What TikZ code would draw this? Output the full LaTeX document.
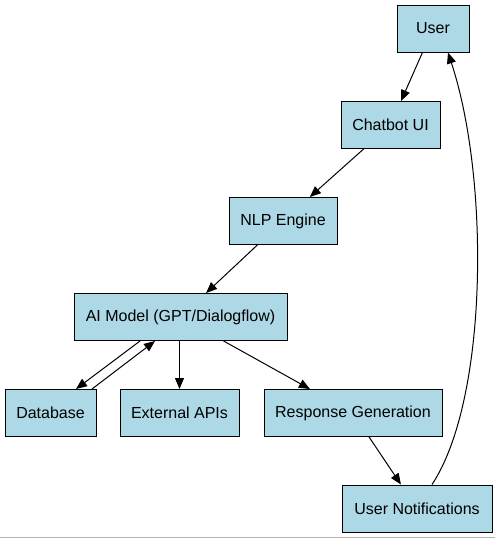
\documentclass[tikz,border=0pt]{standalone}
\usepackage{fontspec}
\setmainfont{Liberation Sans}
\usetikzlibrary{arrows.meta,positioning}
\definecolor{lightblue}{RGB}{173,216,230}

\begin{document}
\begin{tikzpicture}[
    x=1pt, y=-1pt,
    >={Triangle[length=11pt,width=9pt]},
    box/.style={draw, fill=lightblue, line width=1pt, minimum height=47pt, inner sep=0pt, font=\fontsize{16}{18}\selectfont},
    link/.style={->, line width=1pt}
]
\useasboundingbox (0,0) rectangle (495,539);

% Boxes
\node[box, minimum width=72pt]  (user)  at (433,28.5)  {User};
\node[box, minimum width=99pt]  (chat)  at (390.5,125) {Chatbot UI};
\node[box, minimum width=108pt] (nlp)   at (283,221)   {NLP Engine};
\node[box, minimum width=213pt] (ai)    at (180.5,317) {AI Model (GPT/Dialogflow)};
\node[box, minimum width=91pt]  (db)    at (50.5,413)  {Database};
\node[box, minimum width=119pt] (api)   at (179.5,413) {External APIs};
\node[box, minimum width=178pt] (resp)  at (353,413)   {Response Generation};
\node[box, minimum width=150pt] (notif) at (417,508.5) {User Notifications};

% Flow
\draw[link] (user) -- (chat);
\draw[link] (chat) -- (nlp);
\draw[link] (nlp) -- (ai);
\draw[link] ([xshift=-40.5pt]ai.south) -- ([xshift=25.5pt]db.north);
\draw[link] ([xshift=41.5pt]db.north) -- ([xshift=-25.5pt]ai.south);
\draw[link] (ai.south -| api.north) -- (api.north);
\draw[link] (ai) -- (resp);
\draw[link] (resp) -- (notif);

% Back to the user
\draw[link] ([xshift=15pt]notif.north) .. controls (488,400) and (490,180) .. ([xshift=15pt]user.south);

% Bottom edge
\draw[gray!60, line width=1pt] (0,537) -- (495,537);
\end{tikzpicture}
\end{document}
